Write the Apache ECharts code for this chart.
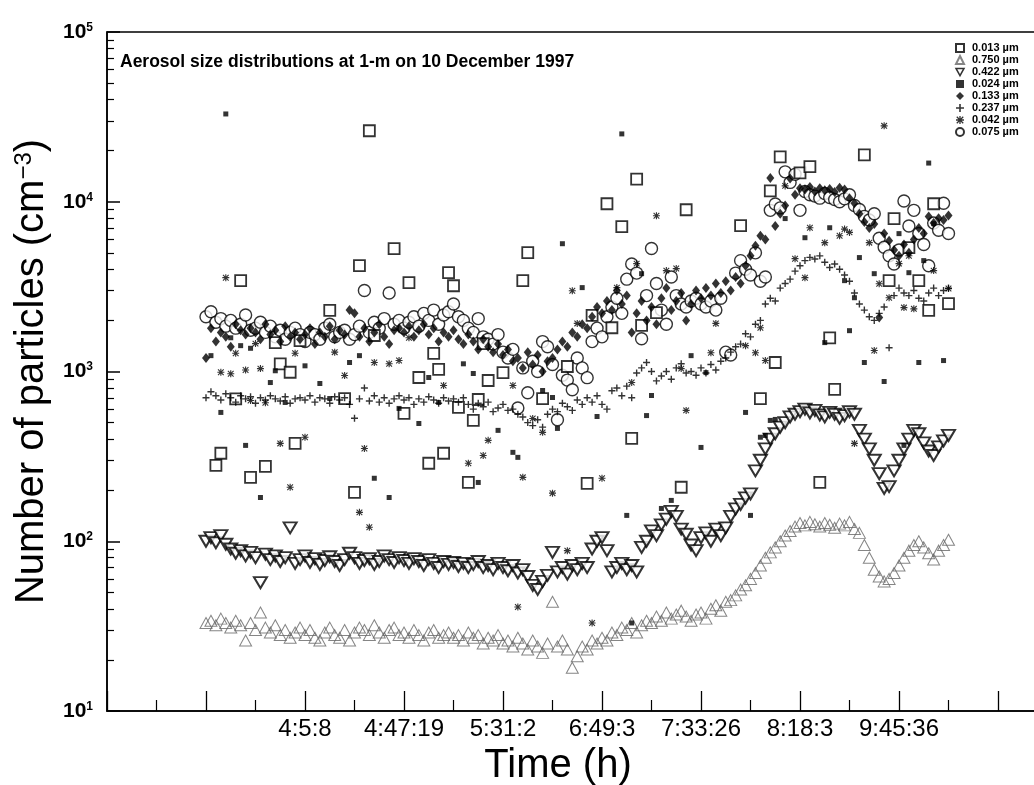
<!DOCTYPE html>
<html>
<head>
<meta charset="utf-8">
<title>Aerosol size distributions at 1-m</title>
<script src="https://cdn.jsdelivr.net/npm/echarts@6.0.0/dist/echarts.min.js"></script>
<style>
  html, body { margin: 0; padding: 0; background: #fff; }
  #chart { width: 1034px; height: 785px; }
</style>
</head>
<body>
<div id="chart"></div>
<script>
// x = sample number, time labels sit on every 20th sample
var timeTickSamples = [40, 60, 80, 100, 120, 140, 160];
var timeTickLabels = ['4:5:8', '4:47:19', '5:31:2', '6:49:3', '7:33:26', '8:18:3', '9:45:36'];
var yMinorTicks = [20, 30, 40, 50, 60, 70, 80, 90, 200, 300, 400, 500, 600, 700, 800, 900,
  2000, 3000, 4000, 5000, 6000, 7000, 8000, 9000, 20000, 30000, 40000, 50000, 60000, 70000, 80000, 90000];

// dense series: one value per sample, starting at sample 20
var denseStart = 20;
var n750 = [33,34,32,35,33,31,34,32,26,33,
  30,38,31,29,32,28,30,27,29,31,
  28,30,27,26,29,31,28,27,30,26,
  29,31,30,28,32,29,27,30,31,28,
  29,27,30,28,26,29,30,27,28,29,
  27,28,26,29,27,28,25,27,26,28,
  25,26,24,27,25,23,26,24,22,25,
  44,24,26,23,18,21,24,23,26,25,
  27,26,29,28,31,30,33,29,32,34,
  33,36,34,38,35,37,39,36,34,37,
  38,35,40,42,39,44,45,48,52,55,
  60,65,72,80,86,92,100,108,115,122,
  128,124,130,126,122,128,125,120,127,124,
  130,118,112,95,80,68,62,58,60,65,
  72,80,88,95,100,92,85,78,88,95,
  102];
var n422 = [100,105,98,108,96,90,85,88,82,86,
  80,57,84,78,82,76,80,120,74,78,
  82,75,79,73,77,81,76,72,78,85,
  80,74,77,79,73,76,82,78,75,80,
  77,74,79,76,72,78,74,70,76,73,
  75,71,74,70,73,76,70,72,68,74,
  70,67,72,65,68,62,55,52,58,63,
  86,66,70,64,72,68,74,70,90,100,
  105,88,66,70,74,68,72,66,92,100,
  115,108,125,135,150,140,118,110,95,88,
  105,112,100,118,108,120,140,155,165,180,
  190,260,300,350,400,430,470,500,540,560,
  580,600,570,590,555,540,575,560,530,550,
  580,560,450,400,350,300,250,205,210,260,
  300,350,400,450,430,380,340,320,360,390,
  420];
var n075 = [2100,2250,1950,2050,1850,2000,1800,1900,2150,1750,
  1800,1950,1700,1850,1600,1750,1550,1700,1800,1650,
  1500,1700,1650,1550,1800,1900,1600,1700,1750,1550,
  1650,1850,3000,1700,1950,1800,2050,2900,1900,2000,
  1800,1950,2100,1850,2200,2000,2300,1900,2150,2250,
  2500,2100,2000,1800,1700,2050,1600,1550,1450,1650,
  1300,1200,1350,610,1050,750,1150,1000,1500,1400,
  1100,520,950,890,780,1200,1050,920,1500,1800,
  1600,2100,2400,2700,2200,3500,4300,3800,1560,2800,
  5300,3300,2300,1900,3600,2800,2500,2400,2600,2700,
  2500,2400,2600,2300,2700,1300,1250,3800,4500,4000,
  3700,5000,3400,3600,8900,9700,9200,15000,13000,14500,
  8900,11500,11000,10800,10500,11200,10600,10300,10000,10400,
  11000,9500,9000,8200,7800,8500,6100,5400,4800,4300,
  5200,10100,7200,8900,6500,5600,4200,7500,6800,9800,
  6500];
var n133 = [1200,1800,1500,1700,1600,1400,1900,1750,1650,1800,
  1700,1550,1900,1650,1750,1500,1850,1600,1700,1550,
  1650,1800,1450,1700,1600,1850,1550,1750,1650,2300,
  2200,1600,1800,1500,1700,1900,1600,1450,1750,1800,
  1700,1850,1600,1750,1900,1650,1800,1500,1700,1600,
  1750,1550,1450,1650,1500,1350,1550,1400,1300,1450,
  1250,1350,1150,1200,1050,1300,1100,1250,1000,1150,
  1200,1350,1500,1400,1700,1600,1900,1800,2100,2400,
  2200,2600,2300,3000,2500,2800,1700,2200,2600,2000,
  2400,1900,2700,3100,2300,2600,2900,2000,2500,3000,
  2700,3100,2800,3300,2900,3400,3000,3600,3300,4200,
  4800,5500,6300,6000,13800,7200,8500,9500,13700,11000,
  12000,11800,12200,11500,12000,11700,11900,11400,12100,11800,
  10500,9800,8500,7600,7000,7400,2080,6500,5900,5200,
  4800,5600,5000,6000,7000,6500,8200,7500,8000,7800,
  8300];
var n237 = [700,760,720,680,740,700,660,720,690,710,
  650,700,680,720,690,670,710,650,690,700,
  680,720,660,700,690,650,710,680,700,640,
  530,690,800,670,720,660,700,650,690,720,
  680,700,640,690,660,710,680,650,700,670,
  690,660,700,640,600,650,620,660,580,610,
  640,590,600,560,540,500,480,520,470,560,
  600,580,650,620,590,680,640,700,660,720,
  640,600,770,800,720,820,700,980,1050,1130,
  1000,880,940,1000,900,1050,1110,980,1000,950,
  1050,980,1100,1020,1150,1200,1300,1400,1450,1670,
  1600,1900,2000,2500,2700,2600,3100,3300,3500,3900,
  4200,4500,4700,4600,4800,4400,4100,4300,4000,3700,
  3400,2900,2500,2300,2100,2000,2200,2400,1380,2800,
  3100,2900,2800,3000,2700,2600,2900,3100,2800,3000,
  3100];

// sparse series: sample number and value
var x013 = [22,23,26,27,29,32,34,35,37,38,39,45,48,50,51,53,54,58,60,61,63,65,66,67,68,69,70,71,73,74,75,76,77,80,
  84,85,88,93,97,98,101,102,104,106,107,108,111,116,117,128,132,134,135,136,140,142,144,146,147,153,158,159,162,164,166,167,170];
var y013 = [280,330,690,3430,238,276,1480,1110,990,377,1520,2290,693,194,4200,26200,1630,5290,566,3340,922,288,1280,1030,330,3820,3200,614,222,515,684,1460,885,985,
  3430,5010,693,1070,219,2140,9730,1810,7130,404,13600,1870,2220,208,8970,7230,693,11600,1130,18400,14800,16100,222,1580,784,18900,3430,7960,5360,3430,2290,9730,2510];
var x024 = [21,23,24,25,27,28,29,31,33,34,36,40,43,45,49,51,54,57,59,63,65,67,72,74,75,79,82,83,88,90,91,92,96,99,
  104,105,106,108,109,110,112,114,118,120,121,129,130,132,133,134,135,137,141,145,146,149,150,151,152,153,155,157,160,161,162,164,165,166,167,169];
var y024 = [1240,574,32900,1580,1420,367,1370,181,861,1010,657,1080,850,693,1130,1240,235,181,606,494,922,657,1110,973,222,450,334,312,773,703,462,5660,3120,543,
  25100,142,33,3770,550,722,156,174,1240,357,985,574,142,410,420,515,522,7960,6140,1480,7030,3430,1740,2720,4690,1130,3770,873,6490,367,3820,1130,4500,16900,7430,1160];
var x042 = [23,24,25,26,28,29,30,31,32,35,37,38,40,46,48,51,52,53,54,57,59,61,68,73,76,77,82,83,84,86,88,90,93,94,95,98,100,
  103,106,107,111,113,115,116,117,122,123,129,131,132,133,137,139,141,142,145,148,149,150,151,154,155,156,157,158,160,161,162,163,167,170];
var y042 = [990,3570,970,1280,1020,675,1460,1040,655,377,208,1280,410,1300,947,148,352,121,1130,1110,1160,1580,827,288,320,393,827,41,238,529,438,192,88,2990,1920,33,235,
  3120,861,4320,8270,3930,4040,1040,590,1290,1920,1420,1290,1810,1160,12400,4620,3570,7030,5740,6300,6900,6600,377,5740,1330,3290,28000,2720,4320,2380,4810,2340,3930,3080];

var plusPath = 'path://M4,0H6V4H10V6H6V10H4V6H0V4H4Z';
var starPath = 'path://M4.2,0H5.8V10H4.2Z M0,4.2H10V5.8H0Z M1.5,0.4L9.6,8.5L8.5,9.6L0.4,1.5Z M8.5,0.4L9.6,1.5L1.5,9.6L0.4,8.5Z';
var downTriPath = 'path://M0,0H10L5,9Z';
var font = 'Liberation Sans, Arial, sans-serif';

function dense(values) {
  return values.map(function (v, i) { return [denseStart + i, v]; });
}
function sparse(xs, ys) {
  return xs.map(function (x, i) { return [x, ys[i]]; });
}

var chart = echarts.init(document.getElementById('chart'));
chart.setOption({
  animation: false,
  backgroundColor: '#fff',
  textStyle: { fontFamily: font, color: '#000' },
  title: {
    text: 'Aerosol size distributions at 1-m on 10 December 1997',
    left: 120, top: 53, padding: 0,
    textStyle: { fontSize: 17.5, fontWeight: 'bold', color: '#000', fontFamily: font }
  },
  legend: {
    orient: 'vertical', left: 955, top: 42, padding: 0,
    itemWidth: 8, itemHeight: 8, itemGap: 0,
    textStyle: { fontSize: 11, lineHeight: 12, fontWeight: 'bold', color: '#000', fontFamily: font, padding: [0, 0, 0, 3] },
    data: [
      '0.013 µm',
      '0.750 µm',
      { name: '0.422 µm', icon: downTriPath, itemStyle: { color: '#fff', borderColor: '#000', borderWidth: 1.5 } },
      '0.024 µm', '0.133 µm', '0.237 µm', '0.042 µm', '0.075 µm'
    ]
  },
  grid: {
    left: 107, right: -63, top: 32, bottom: 74,
    show: true, borderColor: '#000', borderWidth: 1.5,
    outerBoundsMode: 'none'
  },
  xAxis: {
    type: 'value', min: 0, max: 200, interval: 20,
    axisLine: { lineStyle: { color: '#000', width: 1.5 } },
    axisTick: { inside: true, length: 20, lineStyle: { color: '#000', width: 1.3 } },
    minorTick: { show: true, splitNumber: 2, length: 11, lineStyle: { color: '#000', width: 1.2 } },
    splitLine: { show: false },
    axisLabel: {
      margin: 6, fontSize: 24, color: '#000', fontFamily: font,
      formatter: function (v) {
        var i = timeTickSamples.indexOf(v);
        return i < 0 ? '' : timeTickLabels[i];
      }
    },
    name: 'Time (h)', nameLocation: 'middle', nameGap: 32,
    nameTextStyle: { fontSize: 40, color: '#000', fontFamily: font, padding: [0, 88, 0, 0] }
  },
  yAxis: [{
    type: 'log', logBase: 10, min: 10, max: 100000,
    axisLine: { show: true, lineStyle: { color: '#000', width: 1.5 } },
    axisTick: { inside: true, length: 13, lineStyle: { color: '#000', width: 1.5 } },
    splitLine: { show: false },
    axisLabel: {
      margin: 14,
      formatter: function (v) {
        return '{b|10}{s|' + Math.round(Math.log10(v)) + '}';
      },
      rich: {
        b: { fontSize: 21, fontWeight: 'bold', color: '#000', fontFamily: font },
        s: { fontSize: 12, fontWeight: 'bold', color: '#000', fontFamily: font, verticalAlign: 'top' }
      }
    },
    name: 'Number of particles (cm{sup|−3})', nameLocation: 'middle', nameGap: 44,
    nameTextStyle: {
      fontSize: 40, color: '#000', fontFamily: font,
      rich: { sup: { fontSize: 24, color: '#000', fontFamily: font, verticalAlign: 'top' } }
    }
  }, {
    // minor decade ticks 2..9
    type: 'value', min: 1, max: 5, position: 'left',
    axisLine: { show: false },
    axisLabel: { show: false },
    splitLine: { show: false },
    axisTick: {
      inside: true, length: 7, lineStyle: { color: '#000', width: 1.2 },
      customValues: yMinorTicks.map(function (v) { return Math.log10(v); })
    }
  }],
  series: [
    {
      name: '0.013 µm', type: 'scatter', z: 4, data: sparse(x013, y013),
      symbol: 'rect', symbolSize: 11,
      itemStyle: { color: '#fff', borderColor: '#000', borderWidth: 1.8 }
    },
    {
      name: '0.750 µm', type: 'scatter', z: 2, data: dense(n750),
      symbol: 'triangle', symbolSize: [12, 11],
      itemStyle: { color: 'rgba(255,255,255,0)', borderColor: '#666', borderWidth: 1 }
    },
    {
      name: '0.422 µm', type: 'scatter', z: 2, data: dense(n422),
      symbol: 'triangle', symbolRotate: 180, symbolSize: [13, 11],
      itemStyle: { color: '#fff', borderColor: '#000', borderWidth: 2 }
    },
    {
      name: '0.024 µm', type: 'scatter', z: 5, data: sparse(x024, y024),
      symbol: 'rect', symbolSize: 5, itemStyle: { color: '#000' }
    },
    {
      name: '0.133 µm', type: 'scatter', z: 5, data: dense(n133),
      symbol: 'diamond', symbolSize: [8, 10], itemStyle: { color: '#000' }
    },
    {
      name: '0.237 µm', type: 'scatter', z: 5, data: dense(n237),
      symbol: plusPath, symbolSize: 7, itemStyle: { color: '#000' }
    },
    {
      name: '0.042 µm', type: 'scatter', z: 5, data: sparse(x042, y042),
      symbol: starPath, symbolSize: 7, itemStyle: { color: '#000' }
    },
    {
      name: '0.075 µm', type: 'scatter', z: 3, data: dense(n075),
      symbol: 'circle', symbolSize: 12,
      itemStyle: { color: '#fff', borderColor: '#000', borderWidth: 1.4 }
    }
  ]
});
</script>
</body>
</html>
